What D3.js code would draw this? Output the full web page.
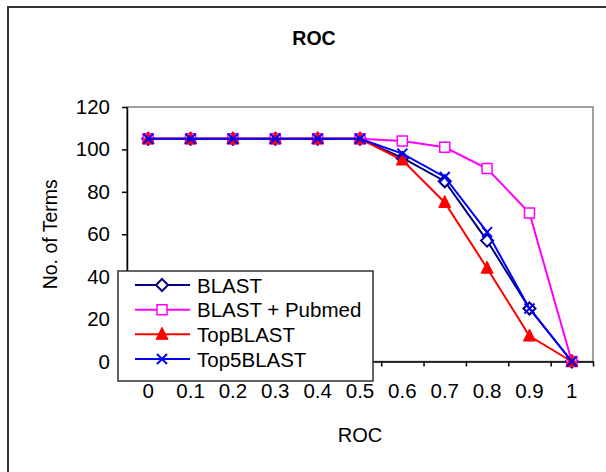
<!DOCTYPE html>
<html>
<head>
<meta charset="utf-8">
<script src="https://cdn.jsdelivr.net/npm/d3@7"></script>
<style>
  body { margin: 0; background: #fff; }
  svg text { font-family: "Liberation Sans", Arial, sans-serif; fill: #000; }
</style>
</head>
<body>
<div id="chart"></div>
<script>
// categories on the x axis
var categories = ["0", "0.1", "0.2", "0.3", "0.4", "0.5", "0.6", "0.7", "0.8", "0.9", "1"];

// series values (no. of terms)
var blast       = [105, 105, 105, 105, 105, 105, 96, 85, 57, 25, 0];
var blastPubmed = [105, 105, 105, 105, 105, 105, 104, 101, 91, 70, 0];
var topBlast    = [105, 105, 105, 105, 105, 105, 95, 75, 44, 12, 0];
var top5Blast   = [105, 105, 105, 105, 105, 105, 98, 87, 61, 25, 0];

var yTicks = [0, 20, 40, 60, 80, 100, 120];

var series = [
    {name: "BLAST", values: blast, color: "#000080", marker: "diamond"},
    {name: "BLAST + Pubmed", values: blastPubmed, color: "#FF00FF", marker: "square"},
    {name: "TopBLAST", values: topBlast, color: "#FF0000", marker: "triangle"},
    {name: "Top5BLAST", values: top5Blast, color: "#0000FF", marker: "cross"}
];

var W = 606, H = 472;
var plot = {left: 127, right: 593, top: 107, bottom: 361.5};

var svg = d3.select("#chart").append("svg")
    .attr("width", W)
    .attr("height", H);

// chart frame
svg.append("rect")
    .attr("x", 8).attr("y", 7)
    .attr("width", 620).attr("height", 490)
    .attr("fill", "#fff")
    .attr("stroke", "#333")
    .attr("stroke-width", 2);

var x = d3.scaleBand()
    .domain(categories)
    .range([plot.left, plot.right])
    .padding(0);
var xEdge = d3.scaleLinear()
    .domain([0, categories.length])
    .range([plot.left, plot.right]);
var y = d3.scaleLinear()
    .domain([0, 120])
    .range([plot.bottom, plot.top]);

// plot area border (gray)
svg.append("rect")
    .attr("x", plot.left).attr("y", plot.top)
    .attr("width", plot.right - plot.left)
    .attr("height", plot.bottom - plot.top)
    .attr("fill", "none")
    .attr("stroke", "#808080")
    .attr("stroke-width", 1.5);

// y axis
var yAxis = svg.append("g")
    .attr("transform", "translate(" + plot.left + ",0)")
    .call(d3.axisLeft(y).tickValues(yTicks).tickSize(5).tickSizeOuter(0).tickPadding(12));
yAxis.select(".domain").attr("stroke", "#000").attr("stroke-width", 1.5);
yAxis.selectAll(".tick line").attr("stroke", "#000").attr("stroke-width", 1.5);
yAxis.selectAll("text").attr("font-size", 20.5).attr("font-family", "Liberation Sans, Arial, sans-serif").attr("fill", "#000");

// x axis: ticks between categories
var xTicks = svg.append("g")
    .attr("transform", "translate(0," + plot.bottom + ")")
    .call(d3.axisBottom(xEdge).tickValues(d3.range(categories.length + 1)).tickFormat("").tickSize(5).tickSizeOuter(0));
xTicks.select(".domain").attr("stroke", "#000").attr("stroke-width", 1.5);
xTicks.selectAll(".tick line").attr("stroke", "#000").attr("stroke-width", 1.5);

var xLabels = svg.append("g")
    .attr("transform", "translate(0," + plot.bottom + ")")
    .call(d3.axisBottom(x).tickSize(0).tickPadding(22));
xLabels.select(".domain").remove();
xLabels.selectAll("text").attr("font-size", 20.5).attr("font-family", "Liberation Sans, Arial, sans-serif").attr("fill", "#000");

// lines
var line = d3.line()
    .x(function(d, i){ return x(categories[i]) + x.bandwidth() / 2; })
    .y(function(d){ return y(d); });

series.forEach(function(s){
    var g = svg.append("g");
    g.append("path")
        .datum(s.values)
        .attr("d", line)
        .attr("fill", "none")
        .attr("stroke", s.color)
        .attr("stroke-width", 2);
    g.selectAll("marker-pt")
        .data(s.values)
        .enter()
        .append("path")
        .attr("transform", function(d, i){
            return "translate(" + (x(categories[i]) + x.bandwidth() / 2) + "," + y(d) + ")";
        })
        .each(function(){ drawMarker(d3.select(this), s); });
});

function drawMarker(sel, s){
    if (s.marker == "diamond"){
        sel.attr("d", "M0,-6L6,0L0,6L-6,0Z").attr("fill", "#fff").attr("stroke", s.color).attr("stroke-width", 2);
    } else if (s.marker == "square"){
        sel.attr("d", "M-5,-5H5V5H-5Z").attr("fill", "#fff").attr("stroke", s.color).attr("stroke-width", 1.5);
    } else if (s.marker == "triangle"){
        sel.attr("d", "M0,-7L6,5H-6Z").attr("fill", s.color).attr("stroke", s.color).attr("stroke-width", 1);
    } else {
        sel.attr("d", "M-5,-5L5,5M5,-5L-5,5").attr("fill", "none").attr("stroke", s.color).attr("stroke-width", 2);
    }
}

// legend
var legend = svg.append("g");
legend.append("rect")
    .attr("x", 118).attr("y", 271)
    .attr("width", 255).attr("height", 110)
    .attr("fill", "#fff")
    .attr("stroke", "#333")
    .attr("stroke-width", 1.5);

var legendY = d3.scalePoint()
    .domain(series.map(function(s){ return s.name; }))
    .range([285, 359]);

series.forEach(function(s){
    var ly = legendY(s.name);
    legend.append("line")
        .attr("x1", 135).attr("x2", 190)
        .attr("y1", ly).attr("y2", ly)
        .attr("stroke", s.color)
        .attr("stroke-width", 2);
    legend.append("path")
        .attr("transform", "translate(162," + ly + ")")
        .each(function(){ drawMarker(d3.select(this), s); });
    legend.append("text")
        .attr("x", 197).attr("y", ly + 7.5)
        .attr("font-size", 20.5)
        .text(s.name);
});

// titles
svg.append("text")
    .attr("x", 314).attr("y", 45)
    .attr("text-anchor", "middle")
    .attr("font-size", 19.5)
    .attr("font-weight", "bold")
    .text("ROC");

svg.append("text")
    .attr("x", (plot.left + plot.right) / 2).attr("y", 442)
    .attr("text-anchor", "middle")
    .attr("font-size", 20)
    .text("ROC");

svg.append("text")
    .attr("transform", "translate(57," + ((plot.top + plot.bottom) / 2) + ") rotate(-90)")
    .attr("text-anchor", "middle")
    .attr("font-size", 19.5)
    .text("No. of Terms");
</script>
</body>
</html>
